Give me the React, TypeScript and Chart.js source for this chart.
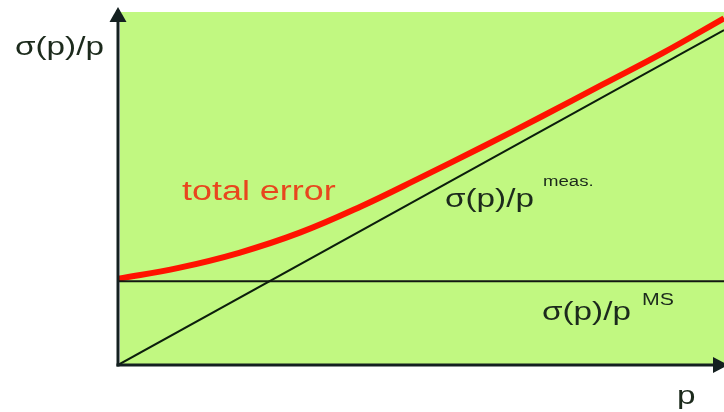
import React, { useEffect, useRef } from "react";
import { Chart, registerables } from "chart.js";

Chart.register(...registerables);

// momentum p (arbitrary units)
const P_VALUES = [0, 1, 2, 3, 4, 5, 6, 7, 8, 9, 10];
// total error curve
const TOTAL_ERROR = [1.03, 1.16, 1.34, 1.58, 1.89, 2.24, 2.6, 2.97, 3.35, 3.73, 4.14];
// measurement term (straight line through origin)
const MEAS_P = [0, 10];
const MEAS_VALUES = [0, 4];
// multiple scattering term (constant)
const MS_P = [0, 10];
const MS_VALUES = [1, 1];

const X_MIN = 0;
const X_MAX = 10;
const Y_MIN = 0;
const Y_MAX = 4.215;

const LABEL_FONT = '"Liberation Sans", Arial, sans-serif';
const STRETCH = 1.33;

function stretchedText(ctx: CanvasRenderingContext2D, text: string, x: number, y: number, size: number, color: string) {
  ctx.save();
  ctx.font = `${size}px ${LABEL_FONT}`;
  ctx.fillStyle = color;
  ctx.textBaseline = "alphabetic";
  ctx.textAlign = "left";
  ctx.translate(x, y);
  ctx.scale(STRETCH, 1);
  ctx.fillText(text, 0, 0);
  ctx.restore();
}

const backgroundPlugin = {
  id: "greenBg",
  beforeDatasetsDraw(chart: any) {
    const { ctx, chartArea } = chart;
    ctx.save();
    ctx.fillStyle = "#c1f881";
    ctx.fillRect(chartArea.left + 2, chartArea.top, chartArea.right - chartArea.left, chartArea.bottom - chartArea.top - 1);
    ctx.restore();
  },
};

const axesPlugin = {
  id: "arrowAxes",
  afterDatasetsDraw(chart: any) {
    const { ctx, chartArea, scales } = chart;
    const x0 = scales.x.getPixelForValue(X_MIN);
    const y0 = scales.y.getPixelForValue(Y_MIN);
    const axisColor = "#142020";
    ctx.save();
    ctx.strokeStyle = axisColor;
    ctx.fillStyle = axisColor;
    ctx.lineWidth = 3;
    // y axis
    ctx.beginPath();
    ctx.moveTo(x0, y0 + 1.5);
    ctx.lineTo(x0, chartArea.top - 2);
    ctx.stroke();
    ctx.beginPath();
    ctx.moveTo(x0, chartArea.top - 5);
    ctx.lineTo(x0 - 8.5, chartArea.top + 10);
    ctx.lineTo(x0 + 8.5, chartArea.top + 10);
    ctx.closePath();
    ctx.fill();
    // x axis
    ctx.beginPath();
    ctx.moveTo(x0 - 1.5, y0);
    ctx.lineTo(chartArea.right - 8, y0);
    ctx.stroke();
    ctx.beginPath();
    ctx.moveTo(chartArea.right + 4, y0);
    ctx.lineTo(chartArea.right - 11, y0 - 8);
    ctx.lineTo(chartArea.right - 11, y0 + 8);
    ctx.closePath();
    ctx.fill();
    ctx.restore();

    const dark = "#1c2a1c";
    stretchedText(ctx, "σ(p)/p", 15, 55, 25, dark);
    stretchedText(ctx, "p", 677, 404, 25, dark);
    stretchedText(ctx, "total error", 182, 200, 27, "#e8461e");
    stretchedText(ctx, "σ(p)/p", 445, 207, 25, dark);
    stretchedText(ctx, "meas.", 543, 186, 14, dark);
    stretchedText(ctx, "σ(p)/p", 542, 320, 25, dark);
    stretchedText(ctx, "MS", 642, 305, 16, dark);
  },
};

export default function App() {
  const canvasRef = useRef<HTMLCanvasElement | null>(null);

  useEffect(() => {
    if (!canvasRef.current) return;
    const chart = new Chart(canvasRef.current, {
      type: "line",
      data: {
        datasets: [
          {
            label: "σ(p)/p MS",
            data: MS_P.map((p, i) => ({ x: p, y: MS_VALUES[i] })),
            borderColor: "#121812",
            borderWidth: 2,
            pointRadius: 0,
            fill: false,
          },
          {
            label: "σ(p)/p meas.",
            data: MEAS_P.map((p, i) => ({ x: p, y: MEAS_VALUES[i] })),
            borderColor: "#0c1e0c",
            borderWidth: 2,
            pointRadius: 0,
            fill: false,
          },
          {
            label: "total error",
            data: P_VALUES.map((p, i) => ({ x: p, y: TOTAL_ERROR[i] })),
            borderColor: "#ff1200",
            borderWidth: 6,
            pointRadius: 0,
            tension: 0.4,
            fill: false,
          },
        ],
      },
      options: {
        animation: false,
        responsive: false,
        maintainAspectRatio: false,
        devicePixelRatio: 1,
        layout: { padding: { left: 118, right: 0, top: 12, bottom: 47 } },
        plugins: {
          legend: { display: false },
          tooltip: { enabled: false },
          title: { display: false },
        },
        scales: {
          x: { type: "linear", min: X_MIN, max: X_MAX, display: false },
          y: { type: "linear", min: Y_MIN, max: Y_MAX, display: false },
        },
      },
      plugins: [backgroundPlugin, axesPlugin],
    });
    return () => chart.destroy();
  }, []);

  return (
    <div style={{ position: "absolute", left: 0, top: 0, width: 724, height: 412, background: "#ffffff" }}>
      <canvas ref={canvasRef} width={724} height={412} style={{ display: "block", width: 724, height: 412 }} />
    </div>
  );
}
